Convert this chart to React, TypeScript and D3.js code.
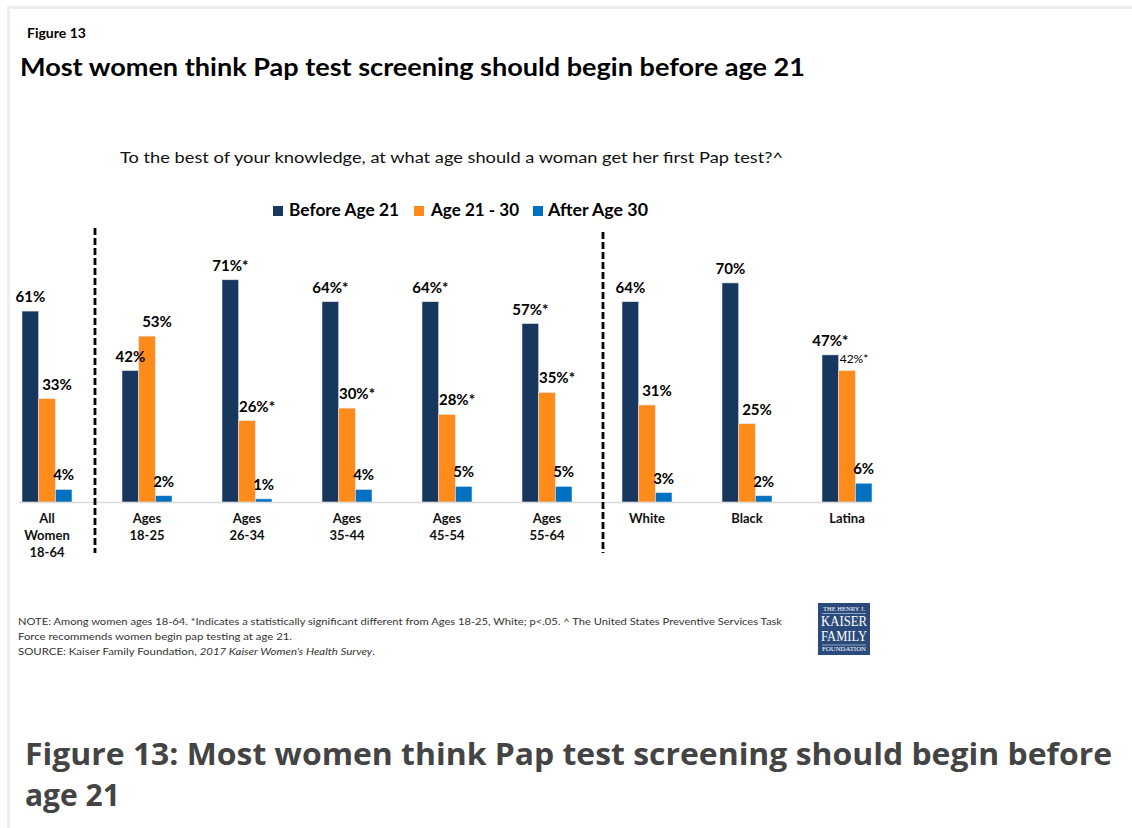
import React from "react";
import * as d3 from "d3";

const categories: string[][] = [
  ["All", "Women", "18-64"],
  ["Ages", "18-25"],
  ["Ages", "26-34"],
  ["Ages", "35-44"],
  ["Ages", "45-54"],
  ["Ages", "55-64"],
  ["White"],
  ["Black"],
  ["Latina"],
];
const seriesNames = ["Before Age 21", "Age 21 - 30", "After Age 30"];
const seriesColors = ["#17375e", "#ff8b1a", "#0070c0"];
const beforeAge21 = [61, 42, 71, 64, 64, 57, 64, 70, 47];
const age21to30 = [33, 53, 26, 30, 28, 35, 31, 25, 42];
const afterAge30 = [4, 2, 1, 4, 5, 5, 3, 2, 6];
const beforeSig = [false, false, true, true, true, true, false, false, true];
const age21to30Sig = [false, false, true, true, true, true, false, false, true];
const afterSig = [false, false, false, false, false, false, false, false, false];
const dividersBefore = [1, 6];

const FONT = "Lato, 'Open Sans', sans-serif";

export default function App() {
  const W = 1132;
  const H = 828;
  const keys = categories.map((c) => c.join(" "));
  const x0 = d3.scaleBand<string>().domain(keys).range([-3, 897]).paddingInner(0.5).paddingOuter(0.25);
  const x1 = d3.scaleBand<number>().domain([0, 1, 2]).range([0, x0.bandwidth()]);
  const y = d3.scaleLinear().domain([0, 100]).range([502, 189]);
  const series = [beforeAge21, age21to30, afterAge30];
  const sigs = [beforeSig, age21to30Sig, afterSig];
  const baseY = y(0);

  return (
    <svg width={W} height={H} style={{ position: "absolute", left: 0, top: 0, background: "#fff" }}>
      <rect x={7} y={6} width={W - 7} height={3} fill="#eeeeee" />
      <rect x={7} y={6} width={3} height={H - 6} fill="#eeeeee" />

      <text x={27} y={38} fontFamily={FONT} fontWeight={700} fontSize={14} fill="#000">Figure 13</text>
      <text x={20} y={76} fontFamily={FONT} fontWeight={700} fontSize={25} fill="#000" textLength={785} lengthAdjust="spacingAndGlyphs">
        Most women think Pap test screening should begin before age 21
      </text>
      <text x={120} y={163} fontFamily={FONT} fontSize={16} fill="#111" textLength={663} lengthAdjust="spacingAndGlyphs">
        To the best of your knowledge, at what age should a woman get her first Pap test?^
      </text>

      {/* legend */}
      {(() => {
        const items = [
          { sx: 273, tx: 289, tl: 110 },
          { sx: 414, tx: 431, tl: 88 },
          { sx: 533, tx: 548, tl: 100 },
        ];
        return seriesNames.map((n, i) => (
          <g key={n}>
            <rect x={items[i].sx} y={206} width={10} height={10} fill={seriesColors[i]} />
            <text x={items[i].tx} y={216} fontFamily={FONT} fontWeight={700} fontSize={16.5} fill="#000" textLength={items[i].tl} lengthAdjust="spacingAndGlyphs">{n}</text>
          </g>
        ));
      })()}

      {/* baseline */}
      <line x1={19} x2={872} y1={baseY + 0.5} y2={baseY + 0.5} stroke="#d9d9d9" strokeWidth={1.5} />

      {/* dividers */}
      {dividersBefore.map((ci, i) => {
        const prev = x0(keys[ci - 1])! + x0.bandwidth();
        const next = x0(keys[ci])!;
        const xm = prev + (next - prev) * (i === 0 ? 0.46 : 0.62);
        return (
          <line key={i} x1={xm} x2={xm} y1={i === 0 ? 228 : 232} y2={553} stroke="#000" strokeWidth={2.8} strokeDasharray="7,3" />
        );
      })}

      {/* bars */}
      {keys.map((k, ci) => (
        <g key={k} transform={`translate(${x0(k)},0)`}>
          {series.map((s, si) => {
            const v = s[ci];
            const bx = x1(si)!;
            const bw = x1.bandwidth();
            return (
              <rect key={si} x={bx} y={y(v)} width={bw} height={baseY - y(v)} fill={seriesColors[si]} stroke="#dfe6ee" strokeWidth={0.6} />
            );
          })}
          {series.map((s, si) => {
            const v = s[ci];
            const bx = x1(si)!;
            const bw = x1.bandwidth();
            const label = `${v}%${sigs[si][ci] ? "*" : ""}`;
            const crowded = si === 1 && Math.abs(y(series[0][ci]) - y(v)) < 22;
            let cx = bx + bw / 2;
            if (si === 1) cx += crowded ? 7 : 10;
            return (
              <text
                key={`l${si}`}
                x={cx}
                y={y(v) - (crowded ? 8 : 9)}
                textAnchor="middle"
                fontFamily={FONT}
                fontWeight={crowded ? 400 : 700}
                fontSize={crowded ? 12 : 15}
                fill="#000"
              >
                {label}
              </text>
            );
          })}
          {categories[ci].map((line, li) => (
            <text
              key={`c${li}`}
              x={x0.bandwidth() / 2}
              y={523 + li * 17}
              textAnchor="middle"
              fontFamily={FONT}
              fontWeight={700}
              fontSize={13}
              fill="#111"
            >
              {line}
            </text>
          ))}
        </g>
      ))}

      {/* notes */}
      <g fontFamily={FONT} fontSize={10} fill="#333">
        <text x={18} y={625} textLength={764} lengthAdjust="spacingAndGlyphs">
          NOTE:  Among women ages 18-64. *Indicates a statistically significant different from Ages 18-25, White; p&lt;.05. ^ The United States Preventive Services Task
        </text>
        <text x={18} y={640} textLength={274} lengthAdjust="spacingAndGlyphs">
          Force recommends women  begin pap testing at age 21.
        </text>
        <text x={18} y={655} textLength={357} lengthAdjust="spacingAndGlyphs">
          SOURCE:  Kaiser Family Foundation, <tspan fontStyle="italic">2017 Kaiser Women’s Health Survey</tspan>.
        </text>
      </g>

      {/* logo */}
      <g>
        <rect x={818} y={603} width={52} height={52} fill="#2a4a7b" />
        <g fill="#fff" fontFamily="'Liberation Serif', 'DejaVu Serif', serif" textAnchor="middle">
          <text x={844} y={611} fontSize={5.5} textLength={42} lengthAdjust="spacingAndGlyphs">THE HENRY J.</text>
          <text x={844} y={626} fontSize={15} textLength={46} lengthAdjust="spacingAndGlyphs">KAISER</text>
          <text x={844} y={641} fontSize={15} textLength={46} lengthAdjust="spacingAndGlyphs">FAMILY</text>
          <text x={844} y={651} fontSize={5.5} textLength={44} lengthAdjust="spacingAndGlyphs">FOUNDATION</text>
        </g>
        <line x1={822} x2={866} y1={613.5} y2={613.5} stroke="#fff" strokeWidth={0.5} />
        <line x1={822} x2={866} y1={645} y2={645} stroke="#fff" strokeWidth={0.5} />
      </g>

      {/* caption */}
      <g fontFamily="'Open Sans', sans-serif" fontWeight={700} fontSize={30} fill="#444">
        <text x={25} y={765} textLength={1087} lengthAdjust="spacingAndGlyphs">
          Figure 13: Most women think Pap test screening should begin before
        </text>
        <text x={25} y={806}>age 21</text>
      </g>
    </svg>
  );
}
